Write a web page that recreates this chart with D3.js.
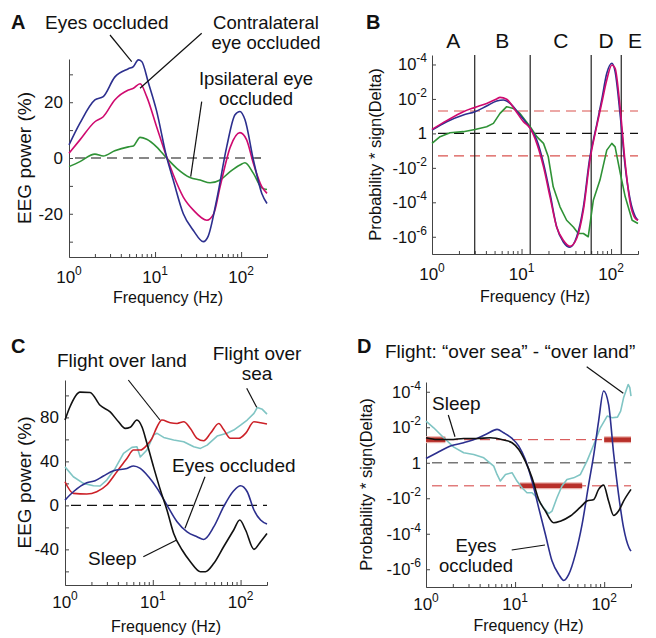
<!DOCTYPE html>
<html>
<head>
<meta charset="utf-8">
<script src="https://cdn.jsdelivr.net/npm/d3@7"></script>
<style>
  body { margin: 0; background: #fff; }
  text { font-family: "Liberation Sans", Arial, sans-serif; fill: #111; }
</style>
</head>
<body>
<div id="chart"></div>
<script>
// ---- data (frequency Hz, value) ----
// A: EEG power change (%)
const eyesA = [[1,4.7],[1.34,12.5],[2,20.8],[2.5,22],[3.4,29],[4.9,32],[5.6,32.8],[6.4,35.2],[7,34.6],[8.4,26.8],[10.4,17],[13.6,0.5],[16.3,-8],[21.3,-20],[27.9,-26],[36.4,-30],[41.5,-28],[52,-15],[68,4],[85,15.5],[97,16.7],[111,13.7],[139,-0.7],[174,-12.7],[200,-16.3]];
const contraA = [[1,1.7],[1.34,6.5],[2,13],[2.5,14.8],[3.4,20.8],[4.9,24.4],[5.6,25],[6.7,26.6],[8,22],[10.4,11.3],[13.6,0.5],[16.3,-6],[21.3,-14],[27.9,-18.7],[40,-22.3],[48,-20],[57,-10.3],[75,4],[97,9.1],[116,6.5],[139,-2],[174,-10.3],[200,-12.7]];
const ipsiA = [[1,-3.1],[1.34,-1.3],[2,1.4],[2.5,0.7],[3.4,2.6],[4.9,4],[5.6,4.3],[6.7,7.4],[8,6.7],[10.4,4],[13.6,0],[17.9,-3.7],[25.5,-7],[33.4,-7.9],[43.6,-8.9],[57,-7.9],[74.5,-4.9],[97,-2.5],[111,-1.7],[139,-5.5],[174,-10.7],[200,-11.3]];

// B: signed log probability (decades; +4 = 10^-4 positive)
const eyesB = [[1,0.19],[1.46,0.68],[2.24,1.07],[3.02,1.26],[4.08,1.59],[5.28,1.88],[6.27,1.94],[7.44,1.74],[9.6,1.07],[12.5,0.29],[14.8,-0.39],[17.6,-1.74],[20.8,-3.49],[24.7,-5.43],[29.3,-6.3],[34.8,-6.6],[41.3,-6.0],[49.1,-4.26],[58.1,-1.36],[63.4,-0.39],[69,0.48],[78.6,1.94],[89.6,3.49],[102,4.07],[111,3.59],[127,0.97],[144,-1.94],[164,-3.88],[187,-4.84],[200,-5.04]];
const contraB = [[1,0.23],[1.46,0.74],[2.24,1.26],[3.02,1.51],[4.08,1.74],[5.28,2.0],[5.75,2.09],[6.83,1.98],[8.47,1.36],[10.5,0.68],[12.5,0.29],[14.8,-0.58],[17.6,-1.94],[20.8,-3.68],[24.7,-5.43],[29.3,-6.2],[34.8,-6.55],[41.3,-6.1],[49.1,-4.46],[58.1,-1.55],[69,0.39],[78.6,1.74],[89.6,3.1],[102,3.97],[111,3.78],[127,1.36],[144,-1.74],[164,-4.07],[187,-4.94],[200,-5.04]];
const ipsiB = [[1,-0.58],[1.23,-0.19],[1.59,0.04],[2.24,0.1],[3.02,0.23],[4.08,0.39],[4.85,0.58],[5.75,1.16],[6.83,1.55],[8.1,1.45],[9.6,1.16],[12.5,0.39],[14.8,-0.19],[17.6,-0.58],[19.9,-1.36],[22.6,-3.1],[26.9,-4.26],[31.9,-5.04],[37.9,-5.43],[43.1,-5.81],[49.1,-5.81],[55.6,-6.0],[63.4,-3.88],[75.2,-2.71],[89.6,-0.97],[102,-0.58],[111,-0.78],[127,-2.33],[144,-3.68],[172,-5.04],[200,-5.23]];
const bandEdges = [3, 12.5, 60, 130];
const bandNames = ["A", "B", "C", "D", "E"];
const bandLabelFreq = [1.73, 6.1, 27.4, 88, 185];

// C: EEG power change (%)
const sleepC = [[1,77.6],[1.14,89.7],[1.48,103],[1.93,102.7],[2.51,91],[3.27,85],[4.07,76],[4.85,70],[5.53,71],[6.6,77.6],[7.52,71.5],[8.58,56.4],[10.2,35],[12.2,14],[14.5,-4.2],[17.3,-25.5],[21.6,-40.6],[26.8,-51.2],[34.9,-60.3],[39.8,-60.3],[49.6,-52.7],[64.1,-37.6],[83.5,-22.4],[97.9,-13.3],[114,-22.4],[142,-40],[169,-33],[200,-25.5]];
const landC = [[1,21.5],[1.245,10.9],[1.77,10.3],[2.3,12.4],[2.99,18.5],[3.9,30.6],[5.07,42.7],[6.04,50.3],[7.2,50.3],[8.58,54.8],[9.79,61],[11.2,71.5],[12.7,77.6],[15.8,75.2],[18.9,74.5],[22.5,76],[26.8,70],[31.9,61],[38.1,58.8],[45.4,65.5],[56.5,74.5],[64.1,69],[76.5,61],[95.4,61],[114,65.5],[142,76],[169,75.2],[200,74]];
const seaC = [[1,35],[1.245,26],[1.62,20],[2.11,17.9],[2.51,17.6],[2.99,23],[3.73,33.6],[4.64,47.3],[5.78,52.7],[6.6,53.3],[7.2,44],[8.58,50.3],[10.2,64],[11.2,65.5],[13.3,61.8],[17.3,59.4],[22.5,57.9],[29.3,53.3],[34.9,51.8],[41.6,54.8],[54.1,63],[70,65.5],[83.5,68.5],[100,73],[119,77.6],[142,83.6],[155,89],[177,87.3],[200,83]];
const eyesC = [[1,4.8],[1.245,12.4],[1.77,20.6],[2.2,22.4],[2.74,26.7],[3.57,31.5],[5.07,33.6],[6.04,35.8],[7.2,33.6],[8.96,26],[11.2,15.5],[14.5,0.3],[18.9,-14.8],[24.6,-24],[31.9,-28.5],[38.1,-31],[49.6,-19.4],[64.1,-1.2],[83.5,13.3],[100,17.9],[119,12.4],[142,-4.2],[169,-13.3],[200,-17]];

// D: signed log probability
const sleepD = [[1,1.41],[1.33,1.31],[1.88,1.31],[2.65,1.37],[3.74,1.37],[5.28,1.41],[7.45,1.28],[9.24,1.13],[11,0.75],[13,0.09],[15.5,-0.85],[18.4,-2.07],[21.9,-2.72],[27.1,-3.38],[32.2,-3.29],[41.7,-3.0],[54.1,-2.5],[64.1,-2.16],[76.5,-2.07],[86.6,-1.5],[98.5,-1.26],[112,-2.16],[128,-2.97],[145,-2.72],[165,-2.16],[200,-1.5]];
const eyesD = [[1,0.24],[1.33,0.56],[1.88,0.94],[2.65,1.13],[3.74,1.37],[4.85,1.63],[6.27,1.88],[7.45,1.69],[9.24,1.37],[11,0.94],[13,0.19],[15.5,-1.03],[18.4,-2.54],[21.9,-4.04],[26,-5.54],[30.9,-6.29],[35.2,-6.63],[40,-6.29],[47.5,-5.16],[56.5,-3.47],[67,-1.22],[76.5,0.47],[86.6,2.35],[98.5,4.04],[112,3.29],[128,0.47],[145,-1.78],[165,-3.66],[190,-4.79],[200,-4.98]];
const seaD = [[1,2.35],[1.22,1.97],[1.58,1.41],[2.05,0.88],[2.65,0.56],[3.43,0.47],[4.45,0.28],[5.76,-0.19],[6.27,-0.66],[6.83,-1.03],[7.8,-0.66],[9.24,-0.56],[10.5,-1.03],[11.96,-1.41],[13.6,-1.69],[15.5,-1.69],[17.6,-1.97],[20.9,-2.54],[23.8,-2.87],[26,-2.72],[29.5,-1.97],[33.6,-1.31],[38.2,-0.94],[45.4,-0.85],[54.1,-0.66],[64.1,0.09],[76.5,1.03],[90.5,1.97],[108,2.63],[123,2.54],[141,2.57],[153,2.91],[165,3.66],[186,4.41],[194,4.23],[200,3.76]];
// significant ranges (Hz) drawn on the p = 0.05 lines
const sigBars = [{f0: 1, f1: 1.65, y: 1.3}, {f0: 100, f1: 200, y: 1.3}, {f0: 11.3, f1: 56.6, y: -1.3}];

const pLevel = 1.3; // -log10(0.05)
const probTicks = [4, 2, 0, -2, -4, -6];
const decadeTicks = [1, 10, 100];
const minorTicks = [2,3,4,5,6,7,8,9,20,30,40,50,60,70,80,90,200];

const col = {navy: "#2c2f8e", magenta: "#cf0a6f", green: "#2f9236", red: "#cc2128", teal: "#80c5c4", black: "#111"};

const svg = d3.select("#chart").append("svg")
  .attr("width", 656).attr("height", 638);

function panel(p) {
  const x = d3.scaleLog().domain([1, 200]).range([p.x0, p.x1]);
  const y = d3.scaleLinear().domain(p.yDomain).range([p.y1, p.y0]);
  const g = svg.append("g");

  g.append("g").attr("transform", `translate(0,${p.y1})`)
   .call(d3.axisBottom(x).tickValues(minorTicks).tickSizeInner(-3).tickSizeOuter(0).tickFormat(""));
  g.append("g").attr("transform", `translate(0,${p.y1})`)
   .call(d3.axisBottom(x).tickValues(decadeTicks).tickSizeInner(-5).tickSizeOuter(0).tickFormat(""));
  g.append("g").attr("transform", `translate(${p.x0},0)`)
   .call(d3.axisLeft(y).tickValues(p.yTicks).tickSizeInner(-4).tickSizeOuter(0).tickFormat(""));
  g.selectAll(".domain, .tick line").attr("stroke", "#444");

  decadeTicks.forEach((d, i) => {
    const t = g.append("text").attr("x", x(d)).attr("y", p.y1 + p.tickDy)
      .attr("text-anchor", "middle").style("font-size", "17px");
    t.append("tspan").text("10");
    t.append("tspan").attr("dy", -8).style("font-size", "12px").text(i);
  });

  g.append("text").attr("x", (p.x0 + p.x1) / 2).attr("y", p.xLabelY)
   .attr("text-anchor", "middle").style("font-size", "16px").text("Frequency (Hz)");
  g.append("text").attr("transform", `translate(${p.yLabelX},${(p.y0 + p.y1) / 2}) rotate(-90)`)
   .attr("text-anchor", "middle").style("font-size", p.yLabelSize).text(p.yLabel);
  g.append("text").attr("x", p.letterX).attr("y", p.letterY)
   .style("font-size", "20px").style("font-weight", "bold").text(p.letter);
  return {x, y, g};
}

function linearTicks(g, y, x0, vals) {
  vals.forEach(v => {
    g.append("text").attr("x", x0 - 6).attr("y", y(v) + 6)
     .attr("text-anchor", "end").style("font-size", "17px").text(String(v));
  });
}

function probLabels(g, y, x0) {
  probTicks.forEach(v => {
    const t = g.append("text").attr("x", x0 - 5).attr("y", y(v) + 6)
      .attr("text-anchor", "end").style("font-size", "16.5px");
    if (v === 0) { t.text("1"); return; }
    t.append("tspan").text(v > 0 ? "10" : "-10");
    t.append("tspan").attr("dy", -8).style("font-size", "12px").text(String(-Math.abs(v)));
  });
}

function hline(g, x, y, v, color, w) {
  g.append("line").attr("x1", x(1)).attr("x2", x(200)).attr("y1", y(v)).attr("y2", y(v))
   .attr("stroke", color).attr("stroke-width", w)
   .attr("stroke-dasharray", "10,6").attr("stroke-dashoffset", 10);
}

function curve(g, x, y, data, color, smooth) {
  g.append("path").datum(data)
   .attr("fill", "none").attr("stroke", color).attr("stroke-width", 1.6)
   .attr("stroke-linejoin", "round")
   .attr("d", d3.line().x(d => x(d[0])).y(d => y(d[1]))
                 .curve(smooth ? d3.curveMonotoneX : d3.curveLinear));
}

function note(lines, x, yb, anchor, lineH, size) {
  lines.forEach((s, i) => {
    svg.append("text").attr("x", x).attr("y", yb + i * lineH)
       .attr("text-anchor", anchor).style("font-size", (size || 19) + "px").text(s);
  });
}
function leader(x1, y1, x2, y2) {
  svg.append("line").attr("x1", x1).attr("y1", y1).attr("x2", x2).attr("y2", y2)
     .attr("stroke", "#111").attr("stroke-width", 1.2);
}

// ---- panel A ----
const A = panel({x0: 69, x1: 267, y0: 59, y1: 257, yDomain: [-35.5, 35.5],
  yTicks: [-30, -20, -10, 0, 10, 20, 30], tickDy: 26, xLabelY: 303, yLabelX: 31,
  yLabel: "EEG power (%)", yLabelSize: "19px", letter: "A", letterX: 11, letterY: 29});
linearTicks(A.g, A.y, 69, [20, 0, -20]);
hline(A.g, A.x, A.y, 0, "#111", 1.2);
curve(A.g, A.x, A.y, ipsiA, col.green, true);
curve(A.g, A.x, A.y, contraA, col.magenta, true);
curve(A.g, A.x, A.y, eyesA, col.navy, true);
note(["Eyes occluded"], 45, 29, "start", 19);
note(["Contralateral", "eye occluded"], 266, 29, "middle", 19.5, 18.5);
note(["Ipsilateral eye", "occluded"], 256, 85, "middle", 19.5, 18.5);
leader(110, 35, 131.7, 61.7);
leader(201.7, 33.3, 140, 88.3);
leader(201.7, 101.7, 190.7, 176.7);

// ---- panel B ----
const B = panel({x0: 432, x1: 638, y0: 55, y1: 254, yDomain: [-7, 4.55],
  yTicks: probTicks, tickDy: 26, xLabelY: 302, yLabelX: 381,
  yLabel: "Probability * sign(Delta)", yLabelSize: "16.5px", letter: "B", letterX: 366, letterY: 29});
probLabels(B.g, B.y, 432);
hline(B.g, B.x, B.y, pLevel, "#d9534f", 1.2);
hline(B.g, B.x, B.y, -pLevel, "#d9534f", 1.2);
hline(B.g, B.x, B.y, 0, "#111", 1.2);
B.g.selectAll(".band").data(bandEdges).enter().append("line")
  .attr("x1", d => B.x(d)).attr("x2", d => B.x(d))
  .attr("y1", B.y(-7)).attr("y2", B.y(4.55))
  .attr("stroke", "#222").attr("stroke-width", 1.2);
B.g.selectAll(".bandName").data(bandNames).enter().append("text")
  .attr("x", (d, i) => B.x(bandLabelFreq[i])).attr("y", 48)
  .attr("text-anchor", "middle").style("font-size", "21px").text(d => d);
curve(B.g, B.x, B.y, ipsiB, col.green, false);
curve(B.g, B.x, B.y, eyesB, col.navy, true);
curve(B.g, B.x, B.y, contraB, col.magenta, true);

// ---- panel C ----
const C = panel({x0: 65, x1: 267, y0: 380, y1: 585, yDomain: [-72.4, 114],
  yTicks: [-60, -40, -20, 0, 20, 40, 60, 80, 100], tickDy: 23, xLabelY: 632, yLabelX: 31,
  yLabel: "EEG power (%)", yLabelSize: "19px", letter: "C", letterX: 11, letterY: 353});
linearTicks(C.g, C.y, 65, [80, 40, 0, -40]);
hline(C.g, C.x, C.y, 0, "#111", 1.2);
curve(C.g, C.x, C.y, seaC, col.teal, false);
curve(C.g, C.x, C.y, landC, col.red, true);
curve(C.g, C.x, C.y, eyesC, col.navy, true);
curve(C.g, C.x, C.y, sleepC, col.black, true);
note(["Flight over land"], 57, 367, "start", 19);
note(["Flight over", "sea"], 257, 360, "middle", 20);
note(["Eyes occluded"], 172, 472, "start", 19);
note(["Sleep"], 88, 565, "start", 19);
leader(128.3, 380, 160, 420);
leader(246.7, 388.3, 256.7, 407.3);
leader(205, 476.7, 185, 528.3);
leader(143.3, 556.7, 176.7, 540);

// ---- panel D ----
const D = panel({x0: 426, x1: 631, y0: 382, y1: 587, yDomain: [-7, 4.55],
  yTicks: probTicks, tickDy: 23, xLabelY: 631, yLabelX: 372,
  yLabel: "Probability * sign(Delta)", yLabelSize: "16.5px", letter: "D", letterX: 357, letterY: 353});
probLabels(D.g, D.y, 426);
hline(D.g, D.x, D.y, pLevel, "#d23c3c", 1);
hline(D.g, D.x, D.y, -pLevel, "#d23c3c", 1);
hline(D.g, D.x, D.y, 0, "#777", 1.5);
D.g.selectAll(".sigHalo").data(sigBars).enter().append("line")
  .attr("x1", d => D.x(d.f0)).attr("x2", d => D.x(d.f1))
  .attr("y1", d => D.y(d.y)).attr("y2", d => D.y(d.y))
  .attr("stroke", "#eab0ab").attr("stroke-width", 7);
D.g.selectAll(".sig").data(sigBars).enter().append("line")
  .attr("x1", d => D.x(d.f0)).attr("x2", d => D.x(d.f1))
  .attr("y1", d => D.y(d.y)).attr("y2", d => D.y(d.y))
  .attr("stroke", "#b8302a").attr("stroke-width", 4.5);
curve(D.g, D.x, D.y, seaD, col.teal, false);
curve(D.g, D.x, D.y, eyesD, col.navy, true);
curve(D.g, D.x, D.y, sleepD, col.black, true);
note(["Flight: \u201cover sea\u201d - \u201cover land\u201d"], 385, 358, "start", 19);
note(["Sleep"], 432, 410, "start", 19);
note(["Eyes", "occluded"], 476, 552, "middle", 20, 18.5);
leader(586.7, 366.7, 623.3, 393.3);
leader(448.3, 415, 455, 436.7);
leader(511.7, 550, 545, 545);
</script>
</body>
</html>
